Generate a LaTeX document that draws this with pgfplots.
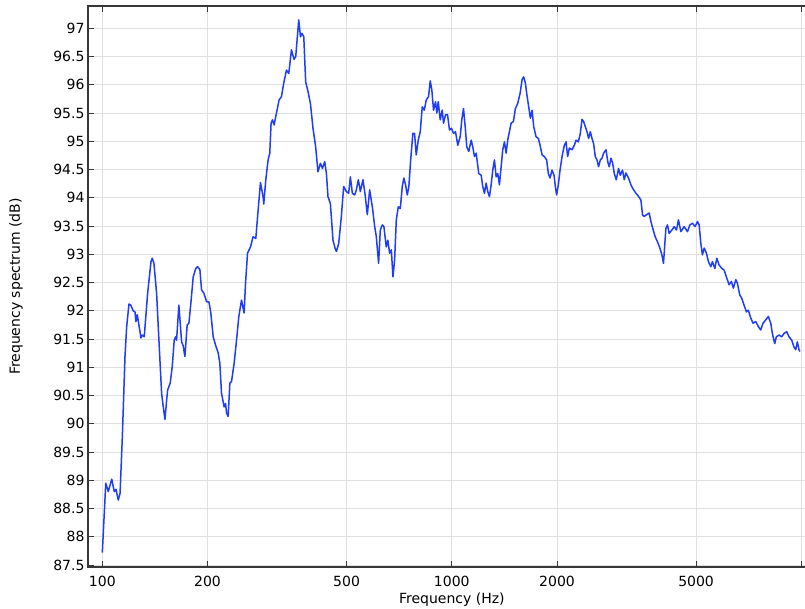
\documentclass[border=0pt]{standalone}
\usepackage{fontspec}
\setmainfont{DejaVu Sans}
\usepackage{pgfplots}
\usepackage{pgfplotstable}
\pgfplotsset{compat=1.18}
\definecolor{curve}{RGB}{30,60,250}
\definecolor{gridc}{RGB}{224,224,224}
\definecolor{framec}{RGB}{55,55,55}
\pgfplotstableread{
f dB
100 87.72
102.3 88.95
104.0 88.80
106.4 89.02
108.2 88.80
109.4 88.84
111.1 88.65
112.4 88.77
114.1 89.77
116.1 91.19
117.4 91.72
119.2 92.12
120.6 92.10
122.6 92.00
124.0 91.98
124.8 91.81
125.9 91.93
129.0 91.52
130.1 91.57
131.8 91.54
134.8 92.31
137.8 92.87
139.0 92.93
140.5 92.84
143.0 92.31
145.2 91.48
147.8 90.54
149.4 90.30
151.1 90.08
152.8 90.42
153.8 90.60
156.4 90.72
158.5 91.01
160.6 91.48
162.1 91.54
163.1 91.48
165.6 92.10
168.6 91.45
170.4 91.38
172.3 91.19
174.9 91.75
176.9 91.78
179.2 92.13
182.0 92.60
185.2 92.75
187.3 92.78
190.2 92.73
192.3 92.37
195.3 92.31
198.8 92.16
201.8 92.16
204.4 91.96
207.6 91.54
210.9 91.39
214.5 91.26
216.9 91.07
219.3 90.54
223.1 90.30
225.2 90.36
226.7 90.19
229.1 90.13
231.7 90.72
234.3 90.75
238.3 91.07
242.1 91.48
245.8 91.90
250.2 92.19
254.5 91.96
256.9 92.49
260.3 93.02
265.5 93.13
270.0 93.31
274.9 93.28
279.1 93.78
283.5 94.27
288.4 94.02
289.7 93.89
293.6 94.32
298.1 94.67
301.4 94.79
304.0 95.32
306.8 95.38
310.1 95.29
315.0 95.50
320.4 95.73
325.5 95.79
330.5 96.03
336.4 96.26
341.6 96.20
347.7 96.62
353.7 96.45
357.6 96.50
364.8 97.15
368.9 96.85
372.8 96.91
377.1 96.85
381.9 96.05
387.8 95.88
394.0 95.67
400.7 95.23
407.8 94.90
414.0 94.46
420.7 94.61
426.4 94.52
432.9 94.64
437.7 94.43
442.3 94.02
449.3 93.90
457.1 93.25
463.2 93.11
467.5 93.05
474.6 93.19
483.0 93.67
490.4 94.20
499.2 94.11
506.8 94.08
512.5 94.37
519.3 94.08
527.2 94.05
533.2 94.14
540.2 94.32
547.4 94.11
556.8 94.32
564.2 94.08
573.2 93.70
582.0 94.14
592.4 93.84
601.7 93.49
608.1 93.31
617.4 92.84
624.3 93.43
632.6 93.52
639.3 93.49
649.3 93.13
656.2 93.25
663.8 93.02
671.4 93.08
678.5 92.60
686.1 92.90
693.7 93.61
702.9 93.84
712.2 93.81
721.6 94.20
729.2 94.35
737.4 94.23
745.7 94.05
753.6 94.20
762.1 94.64
773.7 95.14
782.4 95.14
791.2 94.76
801.7 95.02
812.3 95.17
823.1 95.61
834.0 95.55
845.0 95.73
857.9 95.79
867.5 96.07
876.7 95.91
886.6 95.55
898.4 95.70
906.1 95.50
914.4 95.70
926.5 95.38
938.8 95.55
946.9 95.32
959.4 95.47
972.1 95.47
985.0 95.20
998.0 95.23
1011.3 95.14
1024.6 95.17
1040.3 94.93
1056.8 95.08
1068.0 95.38
1080.0 95.58
1092.2 95.26
1103.7 94.90
1118.3 94.82
1136.1 95.02
1148.2 94.90
1161.1 94.73
1174.1 94.79
1194.4 94.43
1213.4 94.40
1226.2 94.20
1240.0 94.08
1253.9 94.26
1267.2 94.11
1281.4 94.02
1295.8 94.23
1309.5 94.49
1324.3 94.67
1339.2 94.37
1353.4 94.43
1368.6 94.23
1384.0 94.55
1398.6 94.85
1414.4 94.99
1430.3 94.79
1445.4 95.02
1461.6 95.17
1478.0 95.32
1500.6 95.35
1520.5 95.58
1543.7 95.67
1568.3 95.85
1589.0 96.09
1605.8 96.14
1623.9 96.03
1637.8 95.85
1659.6 95.61
1678.3 95.41
1697.1 95.55
1715.1 95.26
1742.3 95.08
1768.9 95.05
1788.8 94.93
1812.5 94.76
1840.1 94.73
1868.1 94.67
1889.1 94.43
1910.3 94.35
1935.6 94.49
1961.2 94.40
1978.1 94.20
1995.3 94.05
2017.7 94.23
2040.3 94.49
2067.4 94.73
2099.0 94.93
2122.6 94.99
2145.0 94.73
2169.2 94.88
2208.0 94.85
2241.7 94.93
2266.9 95.02
2301.4 94.99
2331.9 95.14
2358.1 95.39
2383.1 95.35
2409.9 95.26
2437.0 95.17
2462.8 95.05
2490.5 95.17
2518.4 95.05
2545.1 94.96
2573.7 94.73
2602.7 94.67
2630.3 94.55
2659.8 94.67
2689.7 94.70
2718.2 94.79
2761.4 94.85
2798.0 94.62
2822.0 94.55
2853.8 94.70
2884.0 94.62
2916.5 94.43
2955.1 94.32
3000.2 94.52
3033.9 94.40
3080.2 94.49
3114.8 94.32
3149.8 94.44
3204.2 94.35
3255.2 94.23
3289.7 94.17
3364.1 94.08
3399.7 94.05
3476.5 93.96
3513.3 93.70
3552.8 93.67
3607.0 93.70
3671.7 93.73
3712.9 93.58
3769.6 93.43
3819.4 93.31
3877.6 93.22
3939.4 93.11
3991.5 92.99
4033.7 92.84
4098.0 93.46
4141.3 93.52
4187.9 93.37
4263.0 93.43
4328.1 93.49
4394.1 93.43
4452.2 93.61
4523.1 93.40
4622.4 93.49
4723.9 93.40
4799.0 93.52
4881.8 93.55
4969.3 93.49
5045.1 93.58
5101.7 93.52
5159.1 93.19
5213.7 92.99
5272.2 93.11
5352.6 93.02
5423.5 92.87
5509.7 92.78
5568.0 92.87
5656.6 92.75
5731.6 92.93
5819.0 92.81
5923.2 92.75
6013.5 92.72
6105.2 92.60
6214.7 92.46
6309.6 92.52
6393.1 92.40
6494.9 92.55
6563.6 92.49
6668.1 92.28
6756.4 92.22
6859.5 92.10
6964.1 91.98
7056.3 92.01
7168.6 91.87
7278.0 91.78
7408.4 91.81
7536.2 91.72
7656.2 91.66
7773.0 91.78
7912.4 91.84
8048.7 91.90
8177.0 91.78
8263.4 91.60
8395.0 91.42
8483.8 91.54
8636.0 91.57
8790.7 91.54
8924.7 91.60
9084.8 91.63
9223.3 91.54
9388.5 91.48
9531.6 91.36
9638.9 91.31
9740.8 91.45
9850.5 91.31
9915.6 91.28
}\spectrum
\begin{document}
\begin{tikzpicture}
\begin{axis}[
  scale only axis,
  width=727.6pt, height=561pt,
  xmode=log,
  xmin=91, xmax=10990,
  ymin=87.465, ymax=97.395,
  xtick={100,200,500,1000,2000,5000,10000},
  xticklabels={100,200,500,1000,2000,5000,{}},
  ytick={87.5,88,88.5,89,89.5,90,90.5,91,91.5,92,92.5,93,93.5,94,94.5,95,95.5,96,96.5,97},
  yticklabels={87.5,88,88.5,89,89.5,90,90.5,91,91.5,92,92.5,93,93.5,94,94.5,95,95.5,96,96.5,97},
  xminorticks=false, yminorticks=false,
  grid=major,
  major grid style={gridc, line width=0.9pt},
  axis line style={framec, line width=1.1pt},
  tick style={framec, line width=1pt},
  major tick length=6.5pt,
  tick align=inside,
  xtick pos=both,
  ytick pos=left,
  /pgf/number format/assume math mode=true,
  tick label style={font=\fontsize{14pt}{16pt}\selectfont, text=black},
  xticklabel style={yshift=-6pt},
  label style={font=\fontsize{14pt}{16pt}\selectfont, text=black},
  xlabel={Frequency (Hz)},
  ylabel={Frequency spectrum (dB)},
  xlabel style={at={(axis description cs:0.5,0)}, anchor=center, yshift=-33pt},
  ylabel style={at={(axis description cs:-0.099,0.5)}, anchor=center},
]
\addplot[curve, line width=1.5pt, line join=round, mark=none] table[x=f, y=dB] {\spectrum};
\end{axis}
\pgfresetboundingbox
\path (current axis.south west) ++(-88pt,-41pt) rectangle ++(805pt,608pt);
\end{tikzpicture}
\end{document}
